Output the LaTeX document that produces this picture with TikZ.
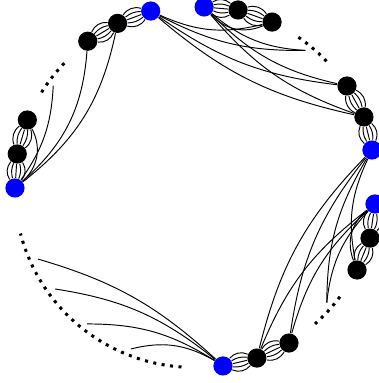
\documentclass[tikz,border=0pt]{standalone}
\usepackage{tikz}

\begin{document}
\begin{tikzpicture}[x={(0.05cm,0)}, y={(0,0.05cm)}, line width=1.35pt,
    vtx/.style={circle, fill=black, inner sep=0pt, minimum size=9.6mm},
    port/.style={vtx, fill=blue},
    dotrow/.style={line width=4.3pt, dash pattern=on 4.3pt off 7.8pt}]
  \useasboundingbox (-194,-195) rectangle (184,188);
  % the four runs of vertices round the circle
  \node[port] (F) at (180:179) {};
  \node[vtx] (a1) at (169.1:180) {};
  \node[vtx] (a2) at (157.8:180) {};
  \node[vtx] (a3) at (125.9:181.2) {};
  \node[vtx] (a4) at (114.9:181.5) {};
  \node[port] (A) at (103.75:182.2) {};
  \node[port] (B) at (86.8:181.3) {};
  \node[vtx] (b1) at (76.1:183.4) {};
  \node[vtx] (b2) at (64.8:183.4) {};
  \node[vtx] (b3) at (33.7:183.9) {};
  \node[vtx] (b4) at (22.7:184.2) {};
  \node[port] (C) at (12.05:182) {};
  \node[port] (D) at (-5.05:181.7) {};
  \node[vtx] (c1) at (-15.9:183) {};
  \node[vtx] (c2) at (-26.7:182.5) {};
  \node[vtx] (c3) at (-58.5:181.8) {};
  \node[vtx] (c4) at (-69.7:181.3) {};
  \node[port] (E) at (-80.75:180.3) {};
  % loose ends next to the dots
  \coordinate (p1) at (144:174);
  \coordinate (p2) at (51:177);
  \coordinate (p3) at (-40.8:175.4);
  \coordinate (q1) at (204.5:171.4);
  \coordinate (q2) at (216:171.8);
  \coordinate (q3) at (231.8:173);
  \coordinate (q4) at (248.6:172.9);
  % dots
  \draw[dotrow] (147.9:180) arc[start angle=147.9, end angle=136, radius=180];
  \draw[dotrow] (55.3:183.4) arc[start angle=55.3, end angle=43.5, radius=183.4];
  \draw[dotrow] (-36.7:182) arc[start angle=-36.7, end angle=-48.3, radius=182];
  \draw[dotrow] (266:179.4) arc[start angle=266, end angle=194.7, radius=179.4];
  % bundles of five between neighbours
  \foreach \u/\v in {F/a1,a1/a2,a3/a4,a4/A,B/b1,b1/b2,b3/b4,b4/C,D/c1,c1/c2,c3/c4,c4/E}
    \foreach \b in {-36,-18,0,18,36}
      \draw (\u) to[bend left=\b] (\v);
  % single edges
  \foreach \s/\t/\b in {F/a2/38, F/p1/16, F/a3/22, F/a4/20,
      A/b2/19, A/p2/14, A/b3/14, A/b4/14, B/b2/35, B/p2/18, B/b3/16, B/b4/15,
      C/c2/18, C/p3/15, C/c3/15, C/c4/15, D/c2/36, D/p3/18, D/c3/16, D/c4/15,
      E/q4/22, E/q3/16, E/q2/15, E/q1/13}
    \draw (\s) to[bend right=\b] (\t);
\end{tikzpicture}
\end{document}
